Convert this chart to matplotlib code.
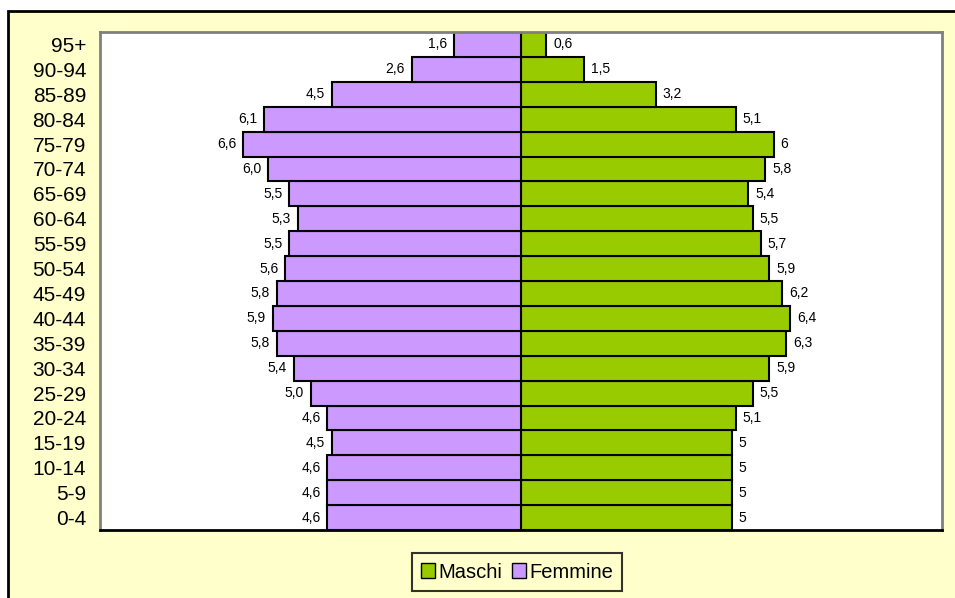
import matplotlib.pyplot as plt
from matplotlib.patches import Rectangle, Patch

plt.rcParams['font.family'] = ['Liberation Sans', 'DejaVu Sans']

eta = ['0-4', '5-9', '10-14', '15-19', '20-24', '25-29', '30-34', '35-39', '40-44', '45-49',
       '50-54', '55-59', '60-64', '65-69', '70-74', '75-79', '80-84', '85-89', '90-94', '95+']
maschi = [5, 5, 5, 5, 5.1, 5.5, 5.9, 6.3, 6.4, 6.2,
          5.9, 5.7, 5.5, 5.4, 5.8, 6, 5.1, 3.2, 1.5, 0.6]
femmine = [4.6, 4.6, 4.6, 4.5, 4.6, 5.0, 5.4, 5.8, 5.9, 5.8,
           5.6, 5.5, 5.3, 5.5, 6.0, 6.6, 6.1, 4.5, 2.6, 1.6]

col_m = '#99CC00'
col_f = '#CC99FF'
bg = '#FFFFCC'

fig = plt.figure(figsize=(9.55, 5.98), dpi=100, facecolor='white')
# cornice esterna
fig.patches.append(Rectangle((8/955, -0.1), 1.1, 1.1 - 11/598, transform=fig.transFigure,
                             facecolor=bg, edgecolor='black', linewidth=2, zorder=-1))

ax = fig.add_axes([100/955, 1 - 530/598, 842/955, 498/598])
ax.set_facecolor('white')

y = list(range(len(eta)))
ax.barh(y, maschi, height=1.0, color=col_m, edgecolor='black', linewidth=1.5)
ax.barh(y, [-v for v in femmine], height=1.0, color=col_f, edgecolor='black', linewidth=1.5)

for i in y:
    m = maschi[i]
    ax.annotate(f'{m:g}'.replace('.', ','), (m, i), xytext=(5, 0), textcoords='offset points',
                ha='left', va='center', fontsize=10)
    f = femmine[i]
    ax.annotate(f'{f:.1f}'.replace('.', ','), (-f, i), xytext=(-5, 0), textcoords='offset points',
                ha='right', va='center', fontsize=10)

ax.set_xlim(-10, 10)
ax.set_ylim(-0.5, len(eta) - 0.5)
ax.set_xticks([])
ax.set_yticks(y)
ax.set_yticklabels(eta, fontsize=15)
ax.tick_params(axis='y', length=0, pad=10)
for s in ['left', 'top', 'right']:
    ax.spines[s].set_color('#808080')
    ax.spines[s].set_linewidth(2)
ax.spines['bottom'].set_color('black')
ax.spines['bottom'].set_linewidth(2)

handles = [Patch(facecolor=col_m, edgecolor='black', label='Maschi'),
           Patch(facecolor=col_f, edgecolor='black', label='Femmine')]
leg = fig.legend(handles=handles, loc='center', bbox_to_anchor=(517/955, 1 - 572/598),
                 ncol=2, fontsize=14.5, frameon=True, fancybox=False, handlelength=0.7,
                 handleheight=0.7, handletextpad=0.15, columnspacing=0.5, borderpad=0.45)
leg.get_frame().set_edgecolor('black')
leg.get_frame().set_facecolor(bg)
leg.get_frame().set_linewidth(1.5)

fig.savefig('out.png', dpi=100, facecolor=fig.get_facecolor())
